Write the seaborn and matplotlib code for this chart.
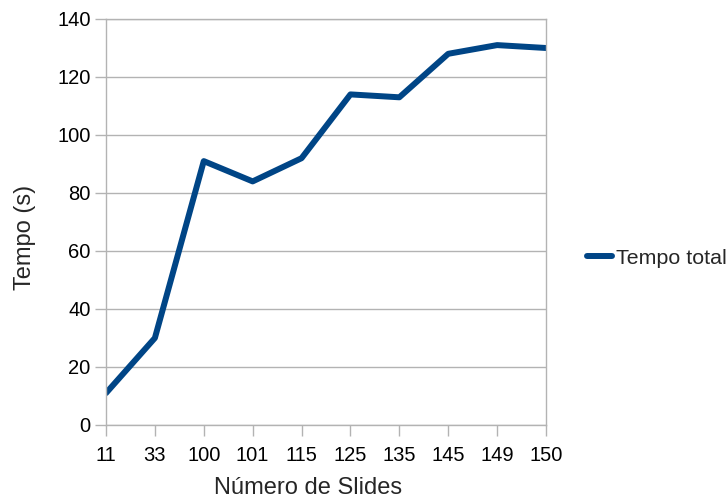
import matplotlib
matplotlib.use("Agg")
import matplotlib.pyplot as plt
import seaborn as sns
import pandas as pd

slides = ["11", "33", "100", "101", "115", "125", "135", "145", "149", "150"]
tempo_total = [11, 30, 91, 84, 92, 114, 113, 128, 131, 130]
y_ticks = [0, 20, 40, 60, 80, 100, 120, 140]

df = pd.DataFrame({"Número de Slides": slides, "Tempo total": tempo_total})

sns.set_theme(style="white")
plt.rcParams['font.family'] = ['Liberation Sans', 'DejaVu Sans']

fig = plt.figure(figsize=(7.28, 5.03), dpi=100)
ax = fig.add_axes([106/728, (503-425)/503, (546-106)/728, (425-19)/503])

sns.lineplot(data=df, x="Número de Slides", y="Tempo total", ax=ax,
             color="#004586", linewidth=4.3, label="Tempo total", sort=False)

ax.set_xlim(0, len(slides) - 1)
ax.set_ylim(0, 140)
ax.set_yticks(y_ticks)
ax.grid(axis="y", color="#b3b3b3", linewidth=1)
ax.set_axisbelow(True)
for s in ax.spines.values():
    s.set_color("#b3b3b3")
    s.set_linewidth(1)
ax.tick_params(axis="both", which="both", length=8, width=1, color="#b3b3b3",
               labelsize=14.5, labelcolor="black", direction="out",
               bottom=True, left=True)
ax.tick_params(axis="x", pad=7)
ax.tick_params(axis="y", pad=3)
ax.set_xlabel("Número de Slides", fontsize=17)
ax.set_ylabel("Tempo (s)", fontsize=17)
ax.xaxis.set_label_coords(308/728, (503-477)/503, transform=fig.transFigure)
ax.yaxis.set_label_coords(25/728, (503-237)/503, transform=fig.transFigure)
ax.yaxis.label.set_va("center")

leg = ax.legend(loc="center left", frameon=False, fontsize=15.4,
                handlelength=1.15, handletextpad=0.22, borderaxespad=0,
                borderpad=0)
leg.set_bbox_to_anchor((587/728, (503-258)/503), transform=fig.transFigure)

fig.savefig("out.png", dpi=100)
